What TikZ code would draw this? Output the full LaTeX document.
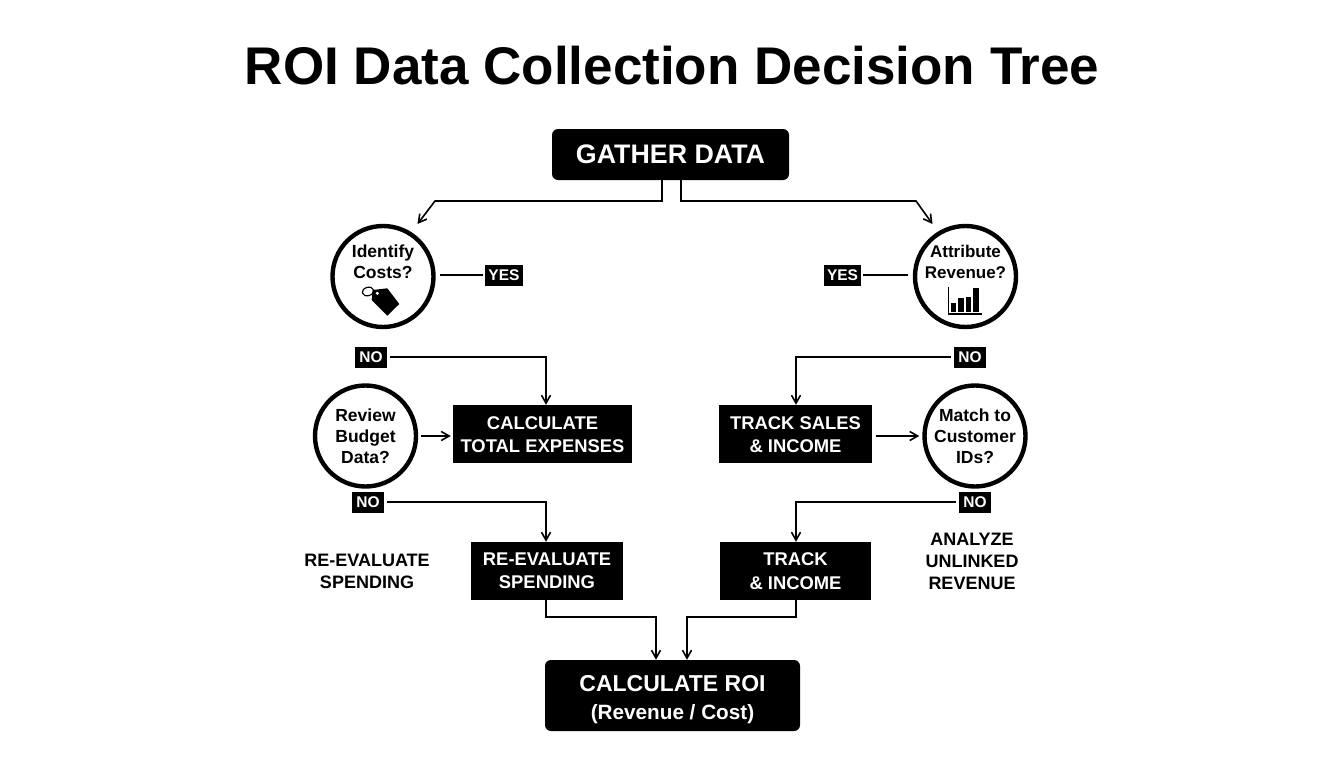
\documentclass[tikz,border=0pt]{standalone}
\usepackage{fontspec}
\setmainfont{Liberation Sans}
\usetikzlibrary{arrows.meta}
\tikzset{
  x=1pt,y=-1pt,
  boxn/.style={fill=black,text=white,font=\bfseries\fontsize{18.4}{23.5}\selectfont,align=center,inner sep=0pt,anchor=center},
  tagn/.style={fill=black,text=white,font=\bfseries\fontsize{15.5}{18}\selectfont,inner sep=0pt,anchor=center},
  qn/.style={circle,draw=black,fill=white,line width=4.4pt,inner sep=0pt,minimum size=101pt,align=center,font=\bfseries\fontsize{17.5}{21}\selectfont},
  plainn/.style={font=\bfseries\fontsize{18}{22}\selectfont,align=center,text=black},
  conn/.style={line width=1.6pt,draw=black,line join=miter},
  arr/.style={conn,-{Straight Barb[length=8pt,width=9pt,line width=1.6pt]}},
}
\begin{document}
\begin{tikzpicture}
\useasboundingbox (0,0) rectangle (1344,768);
\fill[white] (0,0) rectangle (1344,768);
\node[font=\bfseries\fontsize{53}{60}\selectfont,text=black] (title) at (672,66) {ROI Data Collection Decision Tree};

\node[boxn,rounded corners=6pt,minimum width=237pt,minimum height=51pt,font=\bfseries\fontsize{26.8}{30}\selectfont] (gather) at (670.5,154.5) {GATHER DATA};

\node[qn] (identify) at (383,276.5) {};
\node[font=\bfseries\fontsize{17.5}{21}\selectfont,align=center] (identifyt) at (383,262) {Identify\\Costs?};
\node[qn] (attribute) at (965.5,276.5) {};
\node[font=\bfseries\fontsize{17}{21}\selectfont,align=center] (attributet) at (965.5,262) {Attribute\\Revenue?};
\node[qn] (review) at (365.5,436) {Review\\Budget\\Data?};
\node[qn] (match) at (975,436) {Match to\\Customer\\IDs?};

\node[boxn,minimum width=179pt,minimum height=58pt] (calc) at (542.5,434) {};
\node[boxn,fill=none] (calct) at (542.5,434.7) {CALCULATE\\TOTAL EXPENSES};
\node[boxn,minimum width=153pt,minimum height=58pt] (sales) at (795.5,434) {};
\node[boxn,fill=none] (salest) at (795.5,434.7) {TRACK SALES\\\& INCOME};
\node[boxn,minimum width=152pt,minimum height=58pt] (reeval) at (547,571) {RE-EVALUATE\\SPENDING};
\node[boxn,minimum width=151pt,minimum height=58pt] (income) at (795.5,571) {TRACK\\\& INCOME};
\node[boxn,rounded corners=6pt,minimum width=255pt,minimum height=71pt] (roi) at (672.5,695.5) {};
\node[text=white,align=center,font=\bfseries\fontsize{23}{28}\selectfont] (roit) at (672.5,699.5) {CALCULATE ROI\\{\fontsize{20.7}{28}\selectfont (Revenue / Cost)}};

\node[tagn,minimum width=38pt,minimum height=21pt] (yesl) at (504,275.5) {YES};
\node[tagn,minimum width=37pt,minimum height=21pt] (yesr) at (842.5,275.5) {YES};
\node[tagn,minimum width=32pt,minimum height=21pt] (no1) at (371,357) {NO};
\node[tagn,minimum width=32pt,minimum height=21pt] (no2) at (970,357) {NO};
\node[tagn,minimum width=32pt,minimum height=21pt] (no3) at (368,502) {NO};
\node[tagn,minimum width=32pt,minimum height=21pt] (no4) at (975,502) {NO};

\node[plainn] (freea) at (367,571.5) {RE-EVALUATE\\SPENDING};
\node[plainn] (freeb) at (972,561.5) {ANALYZE\\UNLINKED\\REVENUE};

% price tag icon
\draw[line width=1.2pt,rotate around={15:(368,291.5)}] (368,291.5) ellipse (5.8 and 4.2);
\fill[black] (372.7,290) -- (387.3,288.3) -- (399.3,304) -- (387.3,315.7) -- (371.7,300) -- cycle;
\fill[white] (377.3,293.3) circle (1.7);

% bar chart icon
\draw[line width=1.5pt] (948.3,287) -- (948.3,314.2) -- (981.7,314.2);
\fill[black] (950.7,303.3) rectangle (956.2,311.9);
\fill[black] (957.7,297.7) rectangle (963.5,311.9);
\fill[black] (965.5,296.7) rectangle (971.3,311.9);
\fill[black] (973.1,288.3) rectangle (978.5,311.9);

% connectors
\coordinate (g1) at (662,180);
\coordinate (g2) at (681,180);
\coordinate (il) at (417.5,224);
\coordinate (ir) at (932.5,224);
\coordinate (yl) at (436,275);
\coordinate (yr) at (912,275);
\draw[arr] (g1) -- (662,201) -- (435,201) -- (il);
\draw[arr] (g2) -- (681,201) -- (916,201) -- (ir);
\draw[conn,shorten <=4pt,shorten >=2pt] (yl) -- (yl -| yesl.west);
\draw[conn,shorten <=4pt,shorten >=2pt] (yr) -- (yr -| yesr.east);
\draw[arr,shorten <=3pt] (no1.east) -- (546,357) -- (calc.north -| 546,0);
\draw[arr,shorten <=3pt] (no2.west) -- (796,357) -- (sales.north -| 796,0);
\draw[arr,shorten <=3pt,shorten >=2pt] (review.east) -- (review.east -| calc.west);
\draw[arr,shorten <=4pt,shorten >=3pt] (sales.east |- match.west) -- (match.west);
\draw[arr,shorten <=3pt] (no3.east) -- (546,502) -- (reeval.north -| 546,0);
\draw[arr,shorten <=3pt] (no4.west) -- (796,502) -- (income.north -| 796,0);
\draw[arr] (reeval.south -| 546,0) -- (546,617) -- (656,617) -- (roi.north -| 656,0);
\draw[arr] (income.south -| 796,0) -- (796,617) -- (687,617) -- (roi.north -| 687,0);
\end{tikzpicture}
\end{document}
